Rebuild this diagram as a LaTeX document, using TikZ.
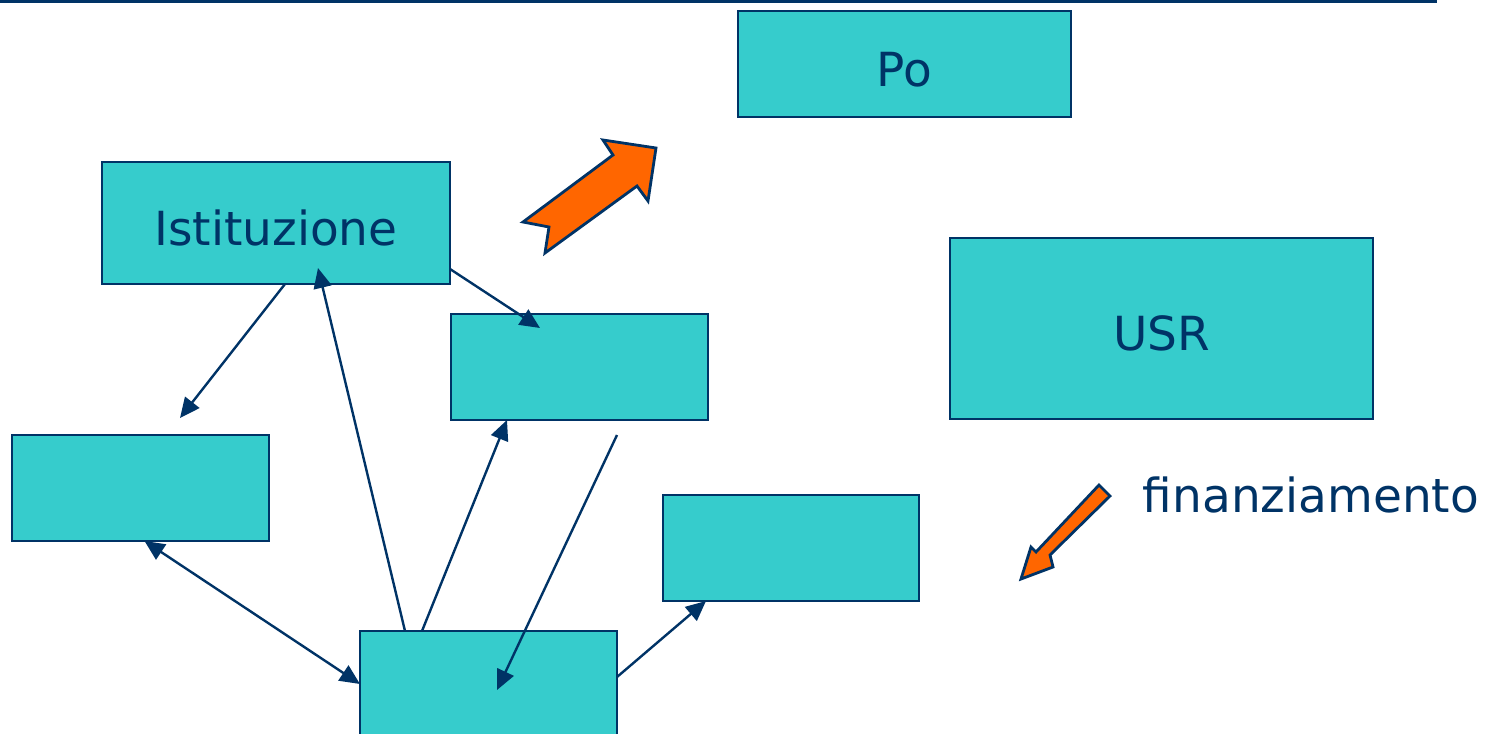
\documentclass[tikz,border=0pt]{standalone}
\usepackage{fontspec}
\setmainfont{DejaVu Sans}
\usepackage{tikz}
\usetikzlibrary{calc,arrows.meta}
\definecolor{navy}{HTML}{003366}
\definecolor{teal}{HTML}{36CCCC}
\definecolor{arancio}{HTML}{FF6600}

\begin{document}
\begin{tikzpicture}[x=0.5pt,y=-0.5pt,
    box/.style={draw=navy,fill=teal,line width=1pt,inner sep=0pt,outer sep=0pt,text=navy,
                text height=22pt,text depth=0pt,font=\fontsize{23.5}{28}\selectfont},
    link/.style={draw=navy,line width=1.2pt,-{Triangle[length=10pt,width=9pt]}},
    frecc/.style={draw=navy,fill=arancio,line width=1.4pt,line join=miter}]
                      \useasboundingbox (0,0) rectangle (1490,734);
                      \draw[navy,line width=1.5pt] (0,1)--(1437,1);
                      \node[box,minimum width=166.5pt,minimum height=53pt] (po) at (904.5,64) {Po};
                      \node[box,minimum width=174pt,minimum height=61pt] (ist) at (276,223) {Istituzione};
                      \node[box,minimum width=211.5pt,minimum height=90.5pt] (usr) at (1161.5,328.5) {USR};
                      \node[box,minimum width=128.5pt,minimum height=53pt] (mid) at (579.5,367) {};
                      \node[box,minimum width=128.5pt,minimum height=53pt] (sx) at (140.5,488) {};
                      \node[box,minimum width=128pt,minimum height=53pt] (dx) at (791,548) {};
                      \node[box,minimum width=128.5pt,minimum height=53pt] (bot) at (488.5,684) {};
                      \node[text=navy,font=\fontsize{23.5}{28}\selectfont] (fin) at (1311,495) {finanziamento};
                      \coordinate (a1) at (180,418);
                      \coordinate (a5) at (617,435);
                      \draw[link] ([xshift=4.5pt]ist.south) -- (a1);
                      \draw[link] ([xshift=-41.75pt]bot.north) -- ([xshift=21pt,yshift=8pt]ist.south);
                      \draw[link] ([yshift=7.5pt]ist.south east) -- ([xshift=-19.75pt,yshift=-7pt]mid.north);
                      \draw[link] ([xshift=-33.25pt]bot.north) -- ([xshift=-36.25pt]mid.south);
                      \draw[link] (a5) -- ([xshift=4.25pt,yshift=-3pt]bot.center);
                      \draw[link,{Triangle[length=10pt,width=9pt]}-{Triangle[length=10pt,width=9pt]}] ([xshift=2pt]sx.south) -- (bot.west);
                      \draw[link] ([yshift=3.5pt]bot.east) -- ([xshift=-42.5pt]dx.south);
                      \draw[frecc] (523,222)--(613,155)--(603,140)--(656,148)--(648,201)--(637,186)--(545,253)--(549,227)--cycle;
                      \draw[frecc] (1099,485)--(1110,496)--(1050,555)--(1053,567)--(1021,579)--(1031,547)--(1036,552)--cycle;
                  \end{tikzpicture}
\end{document}
